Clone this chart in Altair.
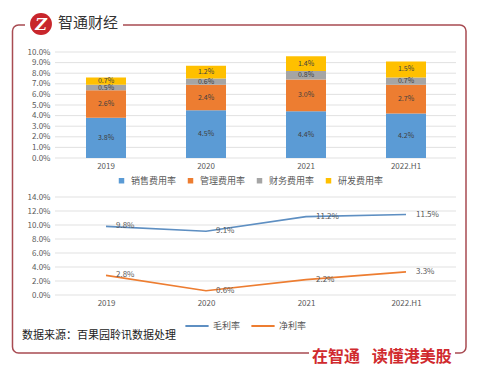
import altair as alt
import pandas as pd

FONT = "Noto Sans CJK SC"

years = ["2019", "2020", "2021", "2022.H1"]
bar_series = ["销售费用率", "管理费用率", "财务费用率", "研发费用率"]
bar_colors = ["#5B9BD5", "#ED7D31", "#A5A5A5", "#FFC000"]
sales = [3.8, 4.5, 4.4, 4.2]
admin = [2.6, 2.4, 3.0, 2.7]
finance = [0.5, 0.6, 0.8, 0.7]
rnd = [0.7, 1.2, 1.4, 1.5]

line_series = ["毛利率", "净利率"]
line_colors = ["#5E8FC2", "#ED7D31"]
gross = [9.8, 9.1, 11.2, 11.5]
net = [2.8, 0.6, 2.2, 3.3]

top_ticks = [0, 1, 2, 3, 4, 5, 6, 7, 8, 9, 10]
bottom_ticks = [0, 2, 4, 6, 8, 10, 12, 14]

header_text = "智通财经"
source_text = "数据来源：百果园聆讯数据处理"
footer_text = "在智通\u2002 读懂港美股"

# ---- tables ----
rows = []
for si, (name, vals) in enumerate(zip(bar_series, [sales, admin, finance, rnd])):
    for y, v in zip(years, vals):
        rows.append({"year": y, "series": name, "value": v, "order": si})
df_bar = pd.DataFrame(rows)

lrows = []
for name, vals in zip(line_series, [gross, net]):
    for y, v in zip(years, vals):
        lrows.append({"year": y, "series": name, "value": v})
df_line = pd.DataFrame(lrows)

# ---- scales / axes ----
top_x_scale = alt.Scale(domain=years, range=[56, 456], paddingInner=0.6, paddingOuter=0.3)
top_y_scale = alt.Scale(domain=[0, 10], range=[158, 52], nice=False, zero=True)
bot_x_scale = alt.Scale(type="point", domain=years, range=[106, 406], padding=0)
bot_y_scale = alt.Scale(domain=[0, 14], range=[295, 197], nice=False, zero=True)

def y_axis(vals):
    return alt.Axis(orient="left", offset=-55, domain=False, ticks=False, grid=False,
                    values=vals, labelPadding=5, labelFontSize=8, labelColor="#595959",
                    labelFont=FONT, title=None,
                    labelExpr="format(datum.value, '.1f') + '%'")

def x_axis(offset):
    return alt.Axis(orient="bottom", offset=offset, domain=False, ticks=False, grid=False,
                    labelPadding=4, labelFontSize=8, labelColor="#595959", labelFont=FONT,
                    labelAngle=0, title=None)

top_yax = y_axis(top_ticks)
bot_yax = y_axis(bottom_ticks)
top_xax = x_axis(-218)
bot_xax = x_axis(-81)

# ---- top chart ----
grid_top = alt.Chart(pd.DataFrame({"t": top_ticks})).mark_rule(
    color="#D9D9D9", strokeWidth=0.8
).encode(
    y=alt.Y("t:Q", scale=top_y_scale, axis=top_yax),
    x=alt.value(55), x2=alt.value(456),
)

bars = alt.Chart(df_bar).mark_bar().encode(
    x=alt.X("year:N", scale=top_x_scale, axis=top_xax, sort=years),
    y=alt.Y("value:Q", stack="zero", scale=top_y_scale, axis=top_yax),
    color=alt.Color("series:N", scale=alt.Scale(domain=bar_series, range=bar_colors),
                    legend=alt.Legend(orient="none", legendX=117, legendY=176,
                                      direction="horizontal", title=None,
                                      symbolType="square", symbolSize=30,
                                      symbolStrokeWidth=0,
                                      labelFontSize=9, labelFont=FONT,
                                      labelColor="#595959", labelOffset=5,
                                      columnPadding=9, padding=0)),
    order=alt.Order("order:Q"),
)

bar_text = alt.Chart(df_bar).transform_stack(
    stack="value", groupby=["year"], sort=[alt.SortField("order")], as_=["v0", "v1"]
).transform_calculate(
    mid="(datum.v0 + datum.v1) / 2",
    lab="format(datum.value, '.1f') + '%'",
).mark_text(fontSize=7, color="#404040", font=FONT).encode(
    x=alt.X("year:N", scale=top_x_scale, axis=top_xax, sort=years),
    y=alt.Y("mid:Q", scale=top_y_scale, axis=top_yax),
    text="lab:N",
)

top = alt.layer(grid_top, bars, bar_text)

# ---- bottom chart ----
grid_bot = alt.Chart(pd.DataFrame({"t": bottom_ticks})).mark_rule(
    color="#D9D9D9", strokeWidth=0.8
).encode(
    y=alt.Y("t:Q", scale=bot_y_scale, axis=bot_yax),
    x=alt.value(55), x2=alt.value(456),
)

lines = alt.Chart(df_line).mark_line(strokeWidth=1.6).encode(
    x=alt.X("year:N", scale=bot_x_scale, axis=bot_xax, sort=years),
    y=alt.Y("value:Q", scale=bot_y_scale, axis=bot_yax),
    color=alt.Color("series:N", scale=alt.Scale(domain=line_series, range=line_colors),
                    legend=alt.Legend(orient="none", legendX=184, legendY=313,
                                      direction="horizontal", title=None,
                                      symbolType="stroke", symbolSize=540,
                                      symbolStrokeWidth=2,
                                      labelFontSize=9, labelFont=FONT,
                                      labelColor="#595959", labelOffset=3,
                                      columnPadding=6, padding=0)),
)

line_text = alt.Chart(df_line).transform_calculate(
    lab="format(datum.value, '.1f') + '%'"
).mark_text(fontSize=8, color="#595959", font=FONT, align="left", dx=10).encode(
    x=alt.X("year:N", scale=bot_x_scale, axis=bot_xax, sort=years),
    y=alt.Y("value:Q", scale=bot_y_scale, axis=bot_yax),
    text="lab:N",
)

bottom = alt.layer(grid_bot, lines, line_text)

# ---- decorations ----
one = pd.DataFrame({"k": [0]})
FRAME = "#A84B52"

frame = alt.Chart(one).mark_rect(
    fillOpacity=0, stroke=FRAME, strokeWidth=1.5, cornerRadius=6
).encode(x=alt.value(12.5), x2=alt.value(466), y=alt.value(25), y2=alt.value(353))

cover_top = alt.Chart(one).mark_rect(color="white").encode(
    x=alt.value(25), x2=alt.value(123), y=alt.value(12), y2=alt.value(37))
cover_bot = alt.Chart(one).mark_rect(color="white").encode(
    x=alt.value(309), x2=alt.value(455), y=alt.value(343), y2=alt.value(370))

logo = alt.Chart(one).mark_point(filled=True, shape="circle", size=480,
                                 color="#C8262C", opacity=1).encode(
    x=alt.value(41), y=alt.value(24))
logo_txt = alt.Chart(one).mark_text(text="Z", fontSize=16, fontWeight="bold",
                                    fontStyle="italic", color="white", font="DejaVu Serif").encode(
    x=alt.value(41), y=alt.value(24.5))

header = alt.Chart(one).mark_text(text=header_text, fontSize=15, color="#333333",
                                  font=FONT, align="left", baseline="middle").encode(
    x=alt.value(58), y=alt.value(23))

source = alt.Chart(one).mark_text(text=source_text, fontSize=11, color="#222222",
                                  font=FONT, align="left", baseline="middle").encode(
    x=alt.value(22), y=alt.value(336))

footer = alt.Chart(one).mark_text(text=footer_text, fontSize=16, fontWeight="bold",
                                  color="#D02A2E", font=FONT, align="left",
                                  baseline="middle").encode(
    x=alt.value(312), y=alt.value(357))

deco = alt.layer(frame, cover_top, cover_bot, logo, logo_txt, header, source, footer)

chart = alt.layer(top, bottom, deco).resolve_scale(
    x="independent", y="independent", color="independent"
).properties(
    width=479, height=376, autosize=alt.AutoSizeParams(type="none"), padding=0,
    background="white",
).configure_view(stroke=None)

chart.save("out.html", embed_options={"renderer": "svg", "actions": False})
